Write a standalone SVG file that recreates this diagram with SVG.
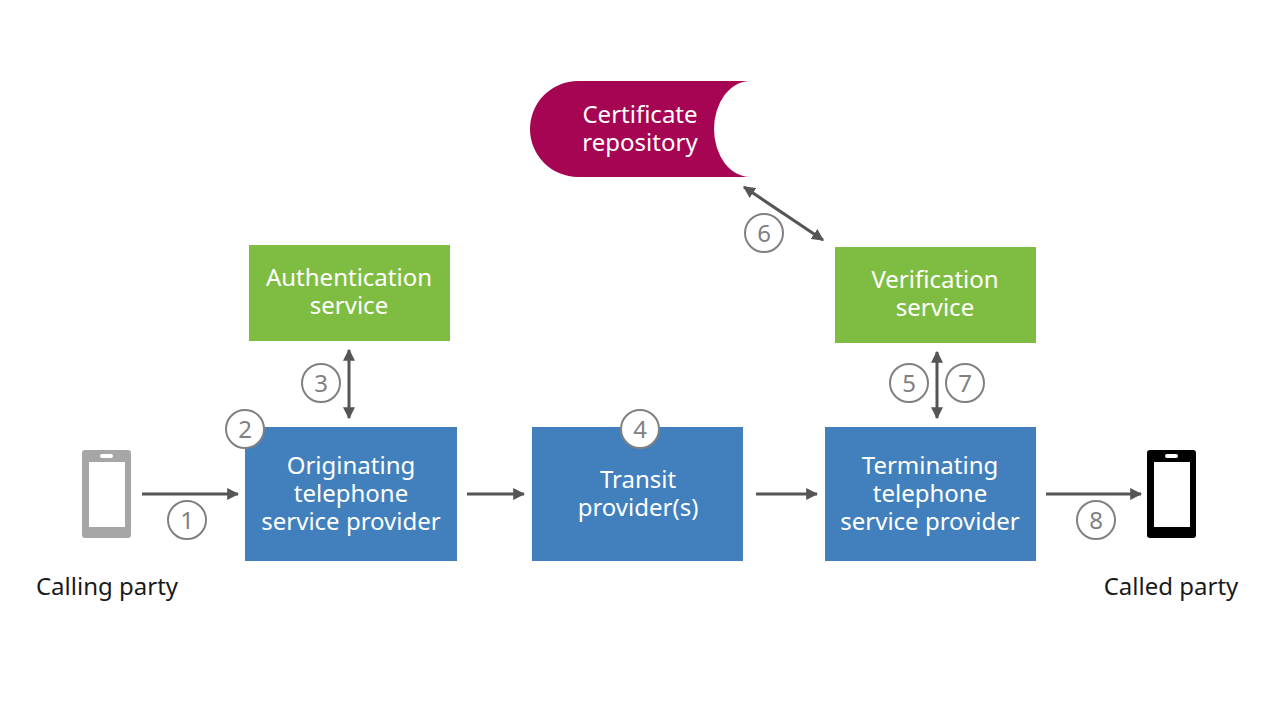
<svg xmlns="http://www.w3.org/2000/svg" width="1280" height="720" viewBox="0 0 1280 720">
<defs>
<style>
.t{font-family:"Noto Sans","Open Sans",sans-serif;font-size:24px;fill:#fff;text-anchor:middle}
.l{font-family:"Noto Sans","Open Sans",sans-serif;font-size:24px;fill:#1a1a1a;text-anchor:middle}
.n{font-family:"Noto Sans","Open Sans",sans-serif;font-size:24px;fill:#808080;text-anchor:middle}
.c{fill:#fff;stroke:#808080;stroke-width:2}
.blue{fill:#4180bd}.green{fill:#7fbd42}
.a{stroke:#555;stroke-width:3;fill:none}
</style>
<marker id="ah" viewBox="0 0 10 10" refX="9" refY="5" markerWidth="4" markerHeight="4" orient="auto-start-reverse"><path d="M0,0L10,5L0,10z" fill="#555"/></marker>
</defs>
<rect width="1280" height="720" fill="#fff"/>
<g id="cert">
<path d="M578,81 H750 A36,48 0 0 0 750,177 H578 A48,48 0 0 1 578,81 Z" fill="#a50552"/>
<text class="t" x="640" y="123">Certificate</text><text class="t" x="640" y="151">repository</text>
</g>
<g id="auth"><rect class="green" x="249" y="245" width="201" height="96"/>
<text class="t" x="349" y="286">Authentication</text><text class="t" x="349" y="314">service</text></g>
<g id="verif"><rect class="green" x="835" y="247" width="201" height="96"/>
<text class="t" x="935" y="288">Verification</text><text class="t" x="935" y="316">service</text></g>
<g id="orig"><rect class="blue" x="245" y="427" width="212" height="134"/>
<text class="t" x="351" y="474">Originating</text><text class="t" x="351" y="502">telephone</text><text class="t" x="351" y="530">service provider</text></g>
<g id="transit"><rect class="blue" x="532" y="427" width="211" height="134"/>
<text class="t" x="638" y="488">Transit</text><text class="t" x="638" y="516">provider(s)</text></g>
<g id="term"><rect class="blue" x="825" y="427" width="211" height="134"/>
<text class="t" x="930" y="474">Terminating</text><text class="t" x="930" y="502">telephone</text><text class="t" x="930" y="530">service provider</text></g>
<g id="caller"><rect x="82" y="450" width="49" height="88" rx="3" fill="#a6a6a6"/><rect x="89" y="462" width="36" height="65" fill="#fff"/><rect x="100" y="454" width="13" height="4" rx="2" fill="#fff"/>
<text class="l" x="107" y="595">Calling party</text></g>
<g id="called"><rect x="1147" y="450" width="49" height="88" rx="3" fill="#000"/><rect x="1154" y="462" width="36" height="65" fill="#fff"/><rect x="1165" y="454" width="13" height="4" rx="2" fill="#fff"/>
<text class="l" x="1171" y="595">Called party</text></g>
<g id="connectors">
<line class="a" x1="142" y1="494" x2="238" y2="494" marker-end="url(#ah)"/>
<line class="a" x1="467" y1="494" x2="524" y2="494" marker-end="url(#ah)"/>
<line class="a" x1="756" y1="494" x2="817" y2="494" marker-end="url(#ah)"/>
<line class="a" x1="1046" y1="494" x2="1141" y2="494" marker-end="url(#ah)"/>
<line class="a" x1="349" y1="350" x2="349" y2="418" marker-start="url(#ah)" marker-end="url(#ah)"/>
<line class="a" x1="937" y1="352" x2="937" y2="418" marker-start="url(#ah)" marker-end="url(#ah)"/>
<line class="a" x1="744" y1="187" x2="823" y2="240" marker-start="url(#ah)" marker-end="url(#ah)"/>
</g>
<g id="labels">
<circle class="c" cx="187" cy="520" r="19"/><text class="n" x="187" y="529">1</text>
<circle class="c" cx="245" cy="429" r="19"/><text class="n" x="245" y="438">2</text>
<circle class="c" cx="321" cy="383" r="19"/><text class="n" x="321" y="392">3</text>
<circle class="c" cx="640" cy="429" r="19"/><text class="n" x="640" y="438">4</text>
<circle class="c" cx="909" cy="383" r="19"/><text class="n" x="909" y="392">5</text>
<circle class="c" cx="764" cy="233" r="19"/><text class="n" x="764" y="242">6</text>
<circle class="c" cx="965" cy="383" r="19"/><text class="n" x="965" y="392">7</text>
<circle class="c" cx="1096" cy="520" r="19"/><text class="n" x="1096" y="529">8</text>
</g>
</svg>
